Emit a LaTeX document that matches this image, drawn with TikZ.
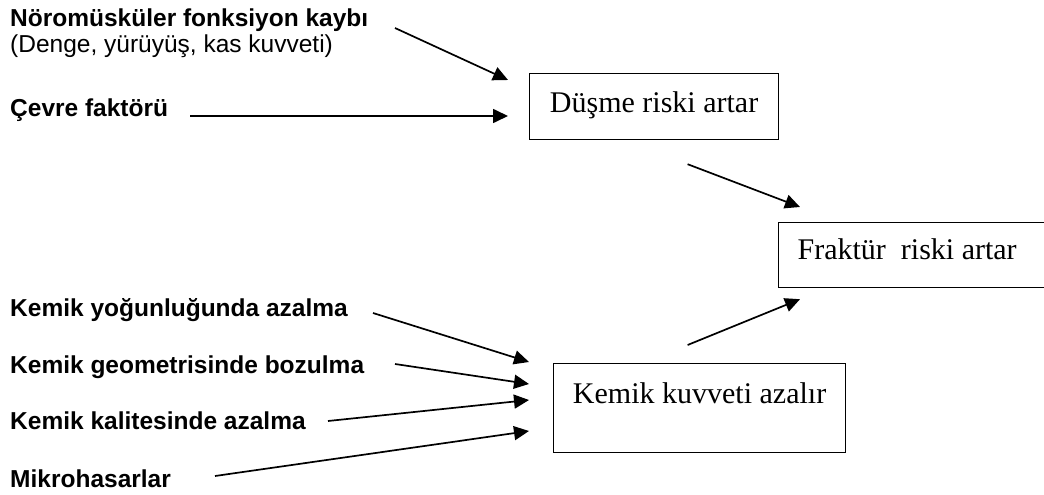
\documentclass[tikz,border=0pt]{standalone}
\usepackage{fontspec}
\setmainfont{Liberation Serif}
\setsansfont{Liberation Sans}
\usetikzlibrary{arrows.meta,calc}
\begin{document}
\begin{tikzpicture}[x=1pt,y=-1pt,
  lab/.style={anchor=base west,inner sep=0pt,font=\fontsize{24.5}{28}\selectfont\sffamily\bfseries},
  sub/.style={anchor=base west,inner sep=0pt,font=\fontsize{24.5}{28}\selectfont\sffamily},
  box/.style={draw,line width=1.2pt,anchor=north west,inner xsep=0pt,inner ysep=0pt,font=\fontsize{30}{34}\selectfont\rmfamily},
  arr/.style={line width=1.7pt,-{Triangle[length=15pt,width=14pt]}}]
\useasboundingbox (0,0) rectangle (1044,495);
\clip (0,0) rectangle (1044,495);
% boxes
\node[box,minimum width=249pt,text height=39pt,text depth=27pt] (dusme) at (529,73) {Düşme riski artar};
\node[box,minimum width=282pt,text width=244pt,inner xsep=19pt,align=left,text height=37pt,text depth=28pt] (frak) at (778,222) {Fraktür\hskip15pt riski\hskip7.5pt artar};
\node[box,minimum width=292pt,text height=40pt,text depth=49pt] (kemik) at (553,363) {Kemik kuvveti azalır};
% labels
\node[lab] (n1) at (10,27) {Nöromüsküler fonksiyon kaybı};
\node[sub] (n1b) at (10,53) {(Denge, yürüyüş, kas kuvveti)};
\node[lab] (cevre) at (10,116) {Çevre faktörü};
\node[lab] (k1) at (10,316) {Kemik yoğunluğunda azalma};
\node[lab] (k2) at (10,373) {Kemik geometrisinde bozulma};
\node[lab] (k3) at (10,429) {Kemik kalitesinde azalma};
\node[lab] (k4) at (10,487) {Mikrohasarlar};
% arrow tips
\coordinate (tn1) at ($(dusme.north west)+(-21,7)$);
\coordinate (tcev) at ($(dusme.north west)+(-21,43)$);
\coordinate (tk1) at ($(kemik.north west)+(-24,-1)$);
\coordinate (tk2) at ($(kemik.north west)+(-24,21)$);
\coordinate (tk3) at ($(kemik.north west)+(-24,37)$);
\coordinate (tk4) at ($(kemik.north west)+(-24,68)$);
% connectors
\draw[arr] ($(n1.base west)+(385,1)$) -- (tn1);
\draw[arr] ($(cevre.base west)+(180,0)$) -- (tcev);
\draw[arr] ($(k1.base west)+(363,-3)$) -- (tk1);
\draw[arr] ($(k2.base west)+(385,-9)$) -- (tk2);
\draw[arr] ($(k3.base west)+(318,-8)$) -- (tk3);
\draw[arr] ($(k4.base west)+(205,-11)$) -- (tk4);
\draw[arr] ($(dusme.south)+(33.5,24)$) -- ($(frak.north west)+(22,-15)$);
\draw[arr] ($(kemik.north)+(-12,-18)$) -- ($(frak.south west)+(22,11)$);
\end{tikzpicture}
\end{document}
